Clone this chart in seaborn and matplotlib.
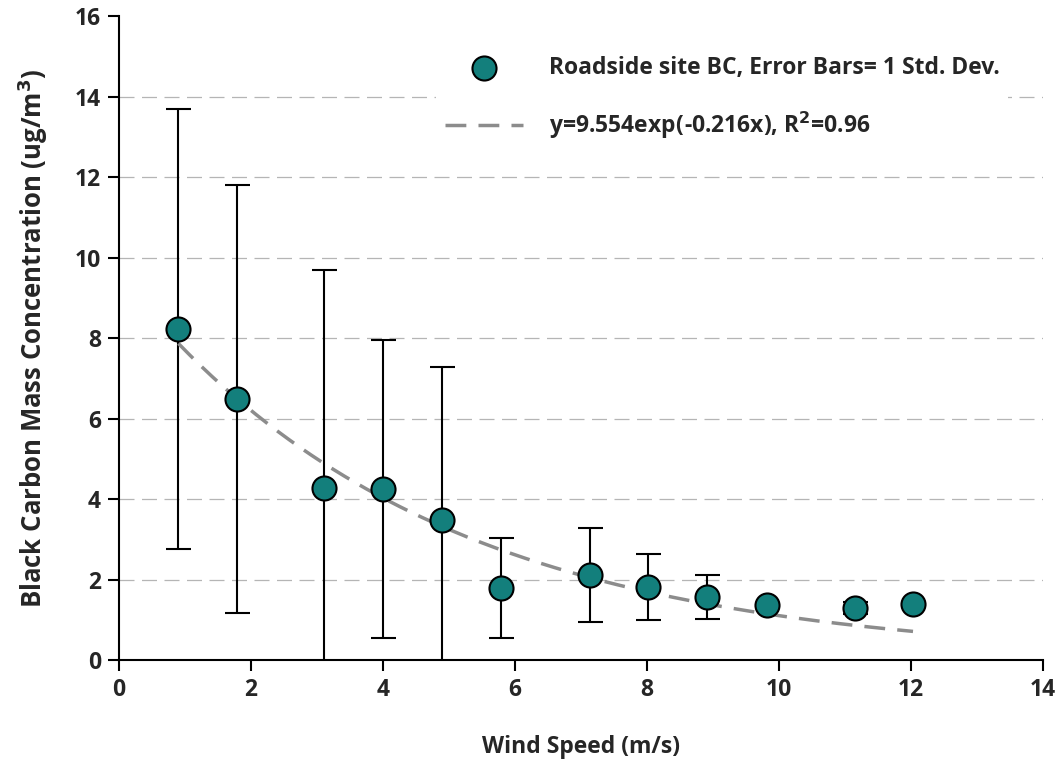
import numpy as np
import pandas as pd
import matplotlib
matplotlib.use("Agg")
import matplotlib.pyplot as plt
import seaborn as sns

# Data
wind_speed = [0.9, 1.79, 3.11, 4.0, 4.89, 5.79, 7.14, 8.02, 8.91, 9.82, 11.15, 12.03]
bc_mean = [8.22, 6.48, 4.27, 4.25, 3.48, 1.79, 2.11, 1.81, 1.57, 1.36, 1.29, 1.39]
bc_std = [5.47, 5.32, 5.42, 3.70, 3.80, 1.24, 1.17, 0.82, 0.55, 0.0, 0.15, 0.0]

fit_a = 9.554
fit_b = -0.216

x_ticks = [0, 2, 4, 6, 8, 10, 12, 14]
y_ticks = [0, 2, 4, 6, 8, 10, 12, 14, 16]
grid_levels = [2, 4, 6, 8, 10, 12, 14]

sns.set_theme(style="white")
plt.rcParams['font.family'] = ['Open Sans', 'DejaVu Sans']
plt.rcParams['font.weight'] = 'bold'
plt.rcParams['mathtext.default'] = 'bf'

df = pd.DataFrame({"x": wind_speed, "y": bc_mean, "sd": bc_std})
xf = np.linspace(min(wind_speed), max(wind_speed), 200)
fit_df = pd.DataFrame({"x": xf, "y": fit_a * np.exp(fit_b * xf)})

fig = plt.figure(figsize=(10.6, 7.75), dpi=100)
ax = fig.add_axes([0.1123, 0.1484, 0.8717, 0.8306])

for yt in grid_levels:
    ax.axhline(yt, color="#b5b5b5", lw=0.9, ls=(0, (12, 6)), zorder=0)

ax.errorbar(df["x"], df["y"], yerr=df["sd"], fmt="none", ecolor="black",
            elinewidth=1.5, capsize=9, capthick=1.5, zorder=2)

sns.lineplot(data=fit_df, x="x", y="y", ax=ax, color="#8c8c8c", lw=2.5,
             dashes=False, zorder=3, label="y=9.554exp(-0.216x), R$^{2}$=0.96")
ax.lines[-1].set_linestyle((0, (6, 3.5)))

sns.scatterplot(data=df, x="x", y="y", ax=ax, s=300, color="#137f7c",
                edgecolor="black", linewidth=1.5, zorder=4,
                label="Roadside site BC, Error Bars= 1 Std. Dev.")

ax.set_xlim(0, 14)
ax.set_ylim(0, 16)
ax.set_xticks(x_ticks)
ax.set_yticks(y_ticks)
ax.tick_params(axis="both", direction="out", length=8, width=1.5,
               labelsize=16.5, color="black", bottom=True, left=True, pad=5)
for lab in ax.get_xticklabels() + ax.get_yticklabels():
    lab.set_fontweight("bold")
for s in ["top", "right"]:
    ax.spines[s].set_visible(False)
for s in ["left", "bottom"]:
    ax.spines[s].set_color("black")
    ax.spines[s].set_linewidth(1.5)

ax.set_xlabel("Wind Speed (m/s)", fontsize=16.5, fontweight="bold", labelpad=24)
ax.set_ylabel("Black Carbon Mass Concentration (ug/m$^{3}$)", fontsize=18.5,
              fontweight="bold", labelpad=18)

handles, labels = ax.get_legend_handles_labels()
order = [1, 0]
leg = ax.legend([handles[i] for i in order], [labels[i] for i in order],
                loc="upper right", bbox_to_anchor=(0.975, 0.97), frameon=True,
                facecolor="white", edgecolor="none", framealpha=1,
                handlelength=3.4, handletextpad=1.1, labelspacing=1.3,
                prop={"weight": "bold", "size": 16.5})

fig.savefig("out.png", dpi=100)
